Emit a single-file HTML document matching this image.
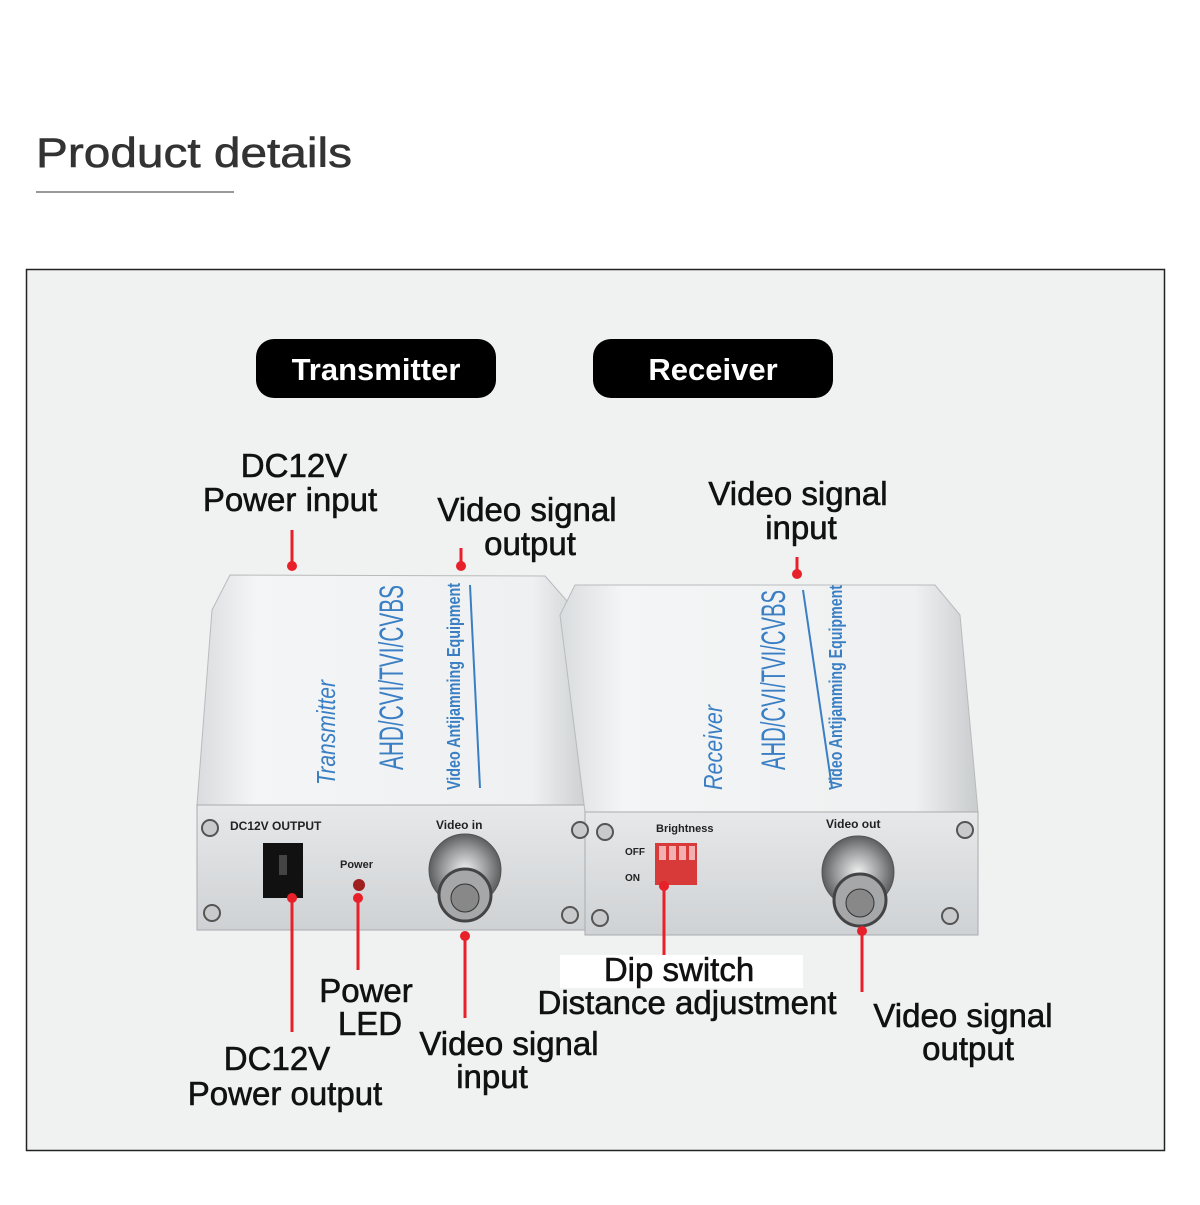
<!DOCTYPE html>
<html><head><meta charset="utf-8"><style>
html,body{margin:0;padding:0;background:#fff;}
body{width:1200px;height:1200px;overflow:hidden;font-family:"Liberation Sans",Arial,sans-serif;}
</style></head><body>
<svg width="1200" height="1200" viewBox="0 0 1200 1200" xmlns="http://www.w3.org/2000/svg" font-family="Liberation Sans, Arial, sans-serif">
<defs>
<linearGradient id="top" x1="0" y1="0" x2="1" y2="0">
<stop offset="0" stop-color="#d9dcde"/><stop offset="0.15" stop-color="#f4f5f6"/><stop offset="0.85" stop-color="#eef0f1"/><stop offset="1" stop-color="#c9ccce"/></linearGradient>
<linearGradient id="front" x1="0" y1="0" x2="0" y2="1">
<stop offset="0" stop-color="#e6e8ea"/><stop offset="1" stop-color="#cfd2d4"/></linearGradient>
<radialGradient id="bnc"><stop offset="0" stop-color="#f0f0f0"/><stop offset="0.6" stop-color="#9a9c9e"/><stop offset="1" stop-color="#5c5e60"/></radialGradient>
</defs>
<rect width="1200" height="1200" fill="#fff"/>
<text x="36" y="167" font-size="42" fill="#333" stroke="#333" stroke-width="0.6" textLength="316" lengthAdjust="spacingAndGlyphs">Product details</text>
<rect x="36" y="191" width="198" height="2" fill="#999"/>
<rect x="26.5" y="269.5" width="1138" height="881" fill="#f0f1f1" stroke="#222" stroke-width="1.5"/>
<rect x="256" y="339" width="240" height="59" rx="18" fill="#000"/>
<text x="376" y="380" font-size="31" font-weight="bold" fill="#fff" text-anchor="middle">Transmitter</text>
<rect x="593" y="339" width="240" height="59" rx="18" fill="#000"/>
<text x="713" y="380" font-size="31" font-weight="bold" fill="#fff" text-anchor="middle">Receiver</text>

<polygon points="230,575 545,576 575,610 592,805 197,805 212,610" fill="url(#top)" stroke="#b8bbbd"/>
<rect x="197" y="805" width="395" height="125" fill="url(#front)" stroke="#a9acae"/>
<polygon points="575,585 935,585 960,615 978,812 585,812 560,615" fill="url(#top)" stroke="#b8bbbd"/>
<rect x="585" y="812" width="393" height="123" fill="url(#front)" stroke="#a9acae"/>

<g fill="#3a7fc4">
<text transform="translate(335,785) rotate(-90)" font-size="26" font-style="italic" textLength="105" lengthAdjust="spacingAndGlyphs">Transmitter</text>
<text transform="translate(403,770) rotate(-90)" font-size="34" textLength="185" lengthAdjust="spacingAndGlyphs">AHD/CVI/TVI/CVBS</text>
<text transform="translate(460,790) rotate(-90)" font-size="18" font-weight="bold" textLength="207" lengthAdjust="spacingAndGlyphs">Video Antijamming Equipment</text>
<text transform="translate(722,790) rotate(-90)" font-size="26" font-style="italic" textLength="85" lengthAdjust="spacingAndGlyphs">Receiver</text>
<text transform="translate(785,770) rotate(-90)" font-size="34" textLength="180" lengthAdjust="spacingAndGlyphs">AHD/CVI/TVI/CVBS</text>
<text transform="translate(842,790) rotate(-90)" font-size="18" font-weight="bold" textLength="205" lengthAdjust="spacingAndGlyphs">Video Antijamming Equipment</text>
</g>
<line x1="470" y1="585" x2="480" y2="788" stroke="#3a7fc4" stroke-width="2"/>
<line x1="803" y1="590" x2="832" y2="788" stroke="#3a7fc4" stroke-width="2"/>

<g fill="#c8cacc" stroke="#555" stroke-width="2">
<circle cx="210" cy="828" r="8"/><circle cx="580" cy="830" r="8"/><circle cx="212" cy="913" r="8"/><circle cx="570" cy="915" r="8"/>
<circle cx="605" cy="832" r="8"/><circle cx="965" cy="830" r="8"/><circle cx="600" cy="918" r="8"/><circle cx="950" cy="916" r="8"/>
</g>
<g font-size="12" font-weight="bold" fill="#222">
<text x="230" y="830">DC12V OUTPUT</text>
<text x="340" y="868" font-size="11">Power</text>
<text x="436" y="829">Video in</text>
<text x="656" y="832" font-size="11">Brightness</text>
<text x="625" y="855" font-size="10">OFF</text>
<text x="625" y="881" font-size="10">ON</text>
<text x="826" y="828">Video out</text>
</g>
<rect x="263" y="843" width="40" height="55" fill="#111"/>
<rect x="279" y="855" width="8" height="20" fill="#444"/>
<circle cx="359" cy="885" r="6" fill="#a02020"/>
<rect x="655" y="843" width="42" height="42" fill="#d83a3a"/>
<g fill="#f3b0b0"><rect x="659" y="846" width="7" height="14"/><rect x="669" y="846" width="7" height="14"/><rect x="679" y="846" width="7" height="14"/><rect x="689" y="846" width="6" height="14"/></g>
<circle cx="465" cy="870" r="36" fill="url(#bnc)" stroke="#555"/>
<circle cx="465" cy="895" r="26" fill="#a5a7a9" stroke="#444" stroke-width="3"/>
<circle cx="465" cy="898" r="14" fill="#888" stroke="#333"/>
<circle cx="858" cy="872" r="36" fill="url(#bnc)" stroke="#555"/>
<circle cx="860" cy="900" r="26" fill="#a5a7a9" stroke="#444" stroke-width="3"/>
<circle cx="860" cy="903" r="14" fill="#888" stroke="#333"/>

<g stroke="#e8202a" stroke-width="3">
<line x1="292" y1="530" x2="292" y2="565"/>
<line x1="461" y1="548" x2="461" y2="565"/>
<line x1="797" y1="557" x2="797" y2="573"/>
<line x1="292" y1="898" x2="292" y2="1032"/>
<line x1="358" y1="898" x2="358" y2="970"/>
<line x1="465" y1="935" x2="465" y2="1018"/>
<line x1="664" y1="885" x2="664" y2="955"/>
<line x1="862" y1="930" x2="862" y2="992"/>
</g>
<g fill="#e8202a"><circle cx="292" cy="566" r="5"/><circle cx="461" cy="566" r="5"/><circle cx="797" cy="574" r="5"/><circle cx="292" cy="898" r="5"/><circle cx="358" cy="898" r="5"/><circle cx="465" cy="936" r="5"/><circle cx="664" cy="886" r="5"/><circle cx="862" cy="931" r="5"/></g>

<rect x="560" y="955" width="243" height="33" fill="#fff"/>
<g font-size="33" fill="#111" stroke="#111" stroke-width="0.6" text-anchor="middle">
<text x="294" y="477">DC12V</text><text x="290" y="511">Power input</text>
<text x="527" y="521">Video signal</text><text x="530" y="555">output</text>
<text x="798" y="505">Video signal</text><text x="801" y="539">input</text>
<text x="679" y="981">Dip switch</text>
<text x="687" y="1014">Distance adjustment</text>
<text x="366" y="1002">Power</text><text x="370" y="1035">LED</text>
<text x="509" y="1055">Video signal</text><text x="492" y="1088">input</text>
<text x="277" y="1070">DC12V</text><text x="285" y="1105">Power output</text>
<text x="963" y="1027">Video signal</text><text x="968" y="1060">output</text>
</g>
</svg>
</body></html>
